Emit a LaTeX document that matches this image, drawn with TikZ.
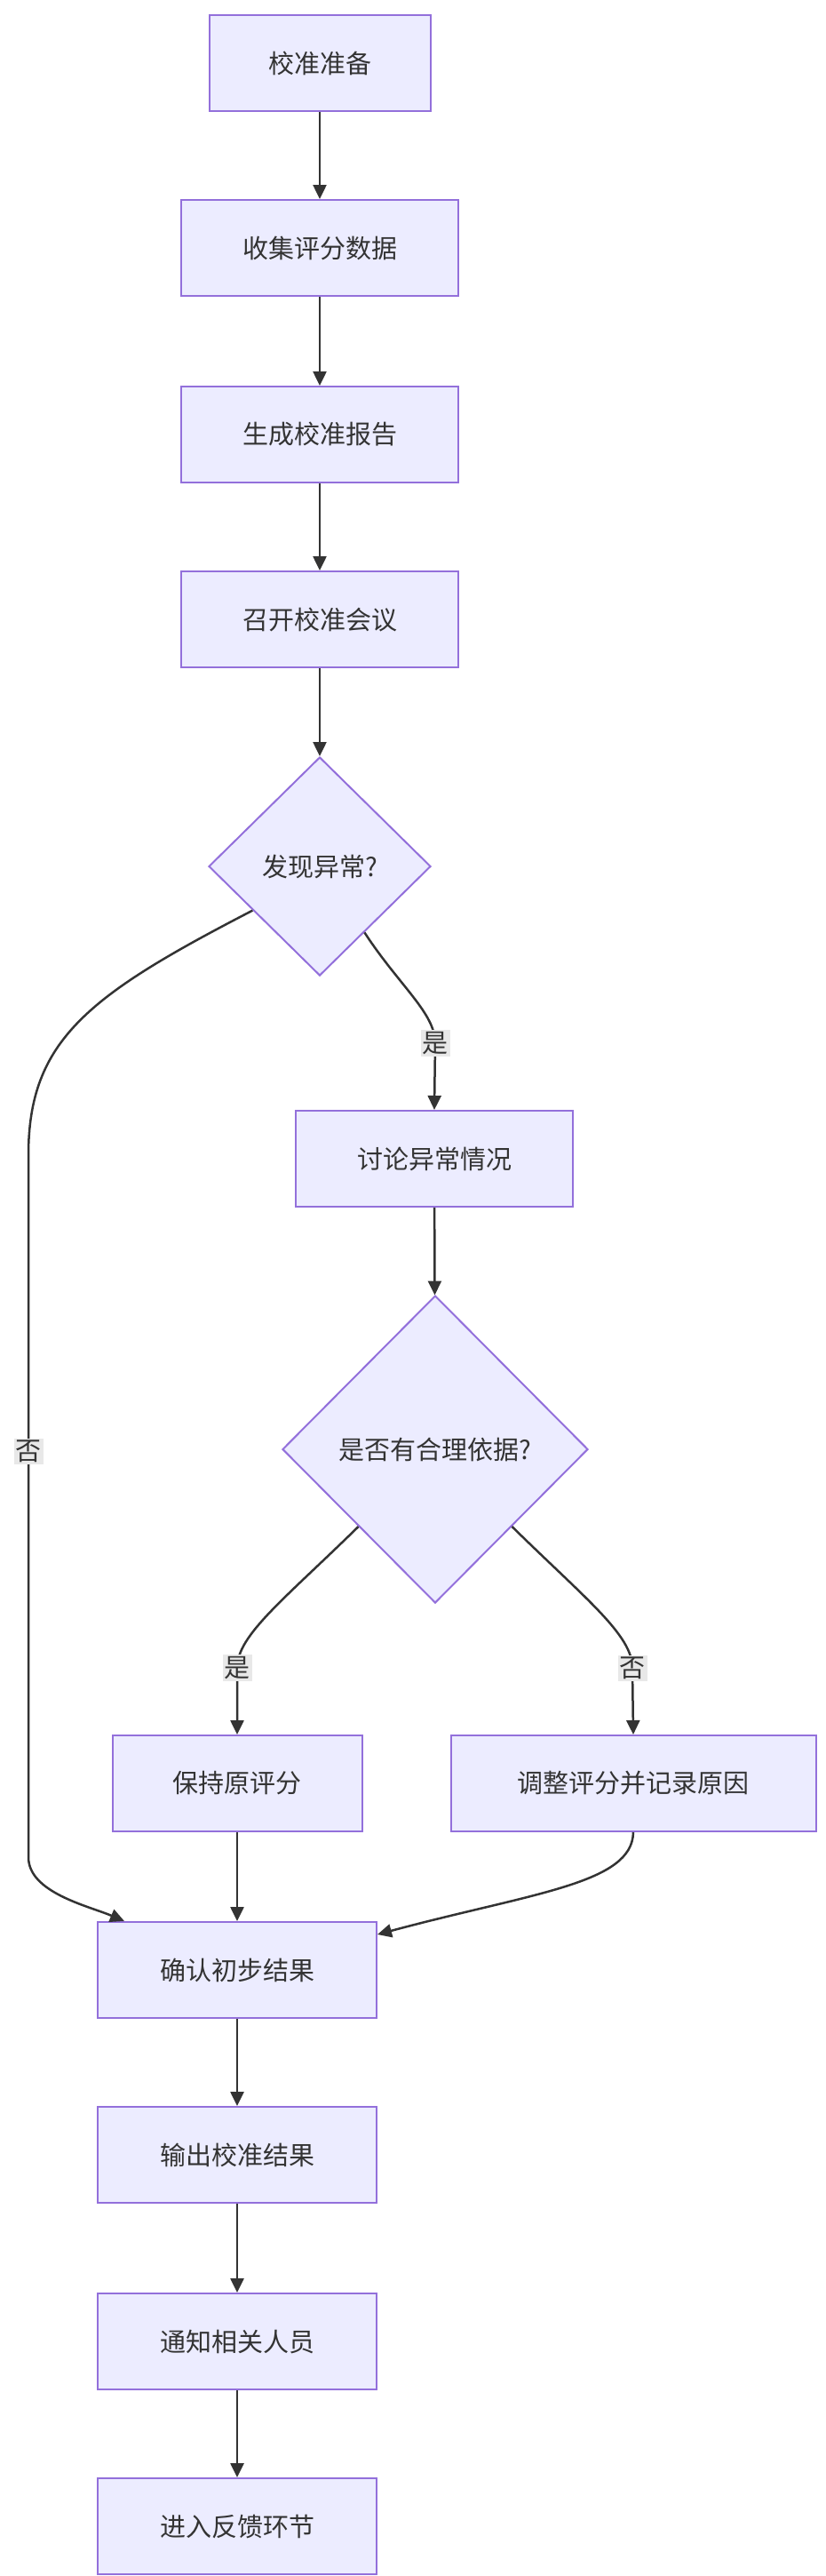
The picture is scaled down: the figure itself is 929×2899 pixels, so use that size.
\documentclass[tikz,border=0pt]{standalone}
\usepackage{fontspec}
\newfontfamily\cjk{Noto Sans CJK SC}
\usetikzlibrary{shapes.geometric,calc,arrows.meta}
\definecolor{nfill}{HTML}{ECECFF}
\definecolor{nstroke}{HTML}{9370DB}
\definecolor{ln}{HTML}{333333}
\definecolor{lblbg}{HTML}{E8E8E8}
\begin{document}
\begin{tikzpicture}[x=1pt,y=-1pt,
  box/.style={draw=nstroke,fill=nfill,line width=2pt,minimum height=108pt,inner sep=0pt,text=ln,font=\cjk\fontsize{29}{34}\selectfont},
  dia/.style={diamond,draw=nstroke,fill=nfill,line width=2pt,inner sep=0pt,text=ln,font=\cjk\fontsize{29}{34}\selectfont},
  arr/.style={draw=ln,line width=2.5pt,-{Triangle[length=16pt,width=15pt]}},
  lbl/.style={fill=lblbg,text=ln,inner sep=2pt,font=\cjk\fontsize{29}{34}\selectfont}]
\useasboundingbox (0,0) rectangle (929,2899);
\node[box,minimum width=249pt] (A) at (360,71) {校准准备};
\node[box,minimum width=312pt] (B) at (360,279) {收集评分数据};
\node[box,minimum width=312pt] (C) at (360,489) {生成校准报告};
\node[box,minimum width=312pt] (D) at (360,697) {召开校准会议};
\node[dia,minimum width=250pt,minimum height=246pt] (E) at (360,975) {发现异常?};
\node[box,minimum width=312pt] (F) at (489,1304) {讨论异常情况};
\node[dia,minimum width=344pt,minimum height=346pt] (G) at (490,1631) {是否有合理依据?};
\node[box,minimum width=281pt] (H) at (267,2007) {保持原评分};
\node[box,minimum width=411pt] (I) at (713,2007) {调整评分并记录原因};
\node[box,minimum width=314pt] (J) at (267,2217) {确认初步结果};
\node[box,minimum width=314pt] (K) at (267,2425) {输出校准结果};
\node[box,minimum width=314pt] (L) at (267,2635) {通知相关人员};
\node[box,minimum width=314pt] (M) at (267,2843) {进入反馈环节};
\draw[arr] (A) -- (B);
\draw[arr] (B) -- (C);
\draw[arr] (C) -- (D);
\draw[arr] (D) -- (E);
\draw[arr] ($(E.west)!0.4!(E.south)$) .. controls (100,1120) and (32,1170) .. (32,1300) -- (32,1633) node[lbl]{否} -- (32,2090) .. controls (32,2130) and (100,2145) .. ([xshift=31pt]J.north west);
\draw[arr] ($(E.east)!0.6!(E.south)$) .. controls (450,1110) and (490,1140) .. (490,1174) node[lbl]{是} -- (F.north);
\draw[arr] (F) -- (G);
\draw[arr] ($(G.west)!0.5!(G.south)$) .. controls (320,1800) and (267,1840) .. (267,1877) node[lbl]{是} -- (H.north);
\draw[arr] ($(G.east)!0.5!(G.south)$) .. controls (660,1800) and (712,1840) .. (712,1877) node[lbl]{否} -- (I.north);
\draw[arr] (H) -- (J);
\draw[arr] (I.south) .. controls (712,2120) and (600,2130) .. ([yshift=40pt]J.east);
\draw[arr] (J) -- (K);
\draw[arr] (K) -- (L);
\draw[arr] (L) -- (M);
\end{tikzpicture}
\end{document}
